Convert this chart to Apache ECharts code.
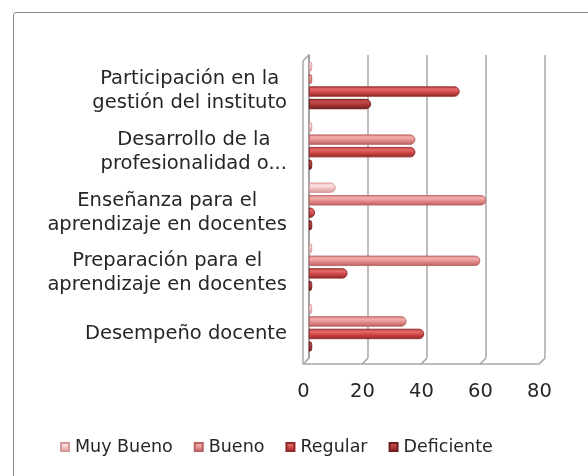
<!DOCTYPE html>
<html><head><meta charset="utf-8">
<script src="https://cdn.jsdelivr.net/npm/echarts@6/dist/echarts.min.js"></script>
<style>html,body{margin:0;padding:0;background:#fff;}
#frame{position:absolute;left:13px;top:12px;width:600px;height:500px;border:1px solid #8a8a8a;border-radius:3px;}
#c{position:absolute;left:0;top:0;width:588px;height:476px;}</style>
</head><body><div id="frame"></div><div id="c"></div>
<script>
const categories = ['Desempeño docente', 'Preparación para el\naprendizaje en docentes', 'Enseñanza para el\naprendizaje en docentes', 'Desarrollo de la\nprofesionalidad o...', 'Participación en la\ngestión del instituto'];
const seriesNames = ['Muy Bueno', 'Bueno', 'Regular', 'Deficiente'];
const muyBueno = [0, 0, 9, 0, 0];
const bueno = [33, 58, 60, 36, 0];
const regular = [39, 13, 2, 36, 51];
const deficiente = [1, 0, 0, 0, 21];
const xTicks = [0, 20, 40, 60, 80];

const palettes = [
  ['#fbe4e4', '#f1bcbc', '#d39a9a'],
  ['#f3aeae', '#e38787', '#b86262'],
  ['#e26a6a', '#cc4343', '#8f2b2b'],
  ['#c44c4c', '#a83232', '#6f1d1d']
];
const values = [muyBueno, bueno, regular, deficiente];
const grad = p => new echarts.graphic.LinearGradient(0, 0, 0, 1, [
  {offset: 0, color: p[1]}, {offset: 0.3, color: p[0]}, {offset: 0.6, color: p[1]}, {offset: 1, color: p[2]}
]);
const font = 'DejaVu Sans';
const txt = '#262626';
const chart = echarts.init(document.getElementById('c'), null, {renderer: 'canvas'});
chart.setOption({
  animation: false,
  backgroundColor: 'transparent',
  grid: {left: 309, right: 43, top: 55, bottom: 118},
  legend: {
    data: seriesNames, left: 55, top: 433, itemWidth: 8, itemHeight: 8, itemGap: 21,
    icon: 'rect',
    textStyle: {fontFamily: font, fontSize: 17.5, color: txt, padding: [0, 0, 0, 1]}
  },
  xAxis: {
    type: 'value', min: xTicks[0], max: xTicks[xTicks.length - 1], interval: 20,
    axisLine: {show: false}, axisTick: {show: false},
    splitLine: {lineStyle: {color: '#bdbdbd', width: 2}},
    axisLabel: {fontFamily: font, fontSize: 19.5, color: txt, margin: 24, padding: [0, 11, 0, 0]}
  },
  yAxis: {
    type: 'category', data: categories,
    axisLine: {lineStyle: {color: '#9a9a9a', width: 1.5}}, axisTick: {show: false},
    axisLabel: {
      fontFamily: font, fontSize: 19.5, color: txt, margin: 22, lineHeight: 24, padding: [12, 0, 0, 0],
      formatter: v => v.split('\n').map(l => '{c|' + l + '}').join('\n'),
      rich: {c: {align: 'center', fontFamily: font, fontSize: 19.5, color: txt, lineHeight: 24}}
    }
  },
  series: seriesNames.map((n, i) => ({
    name: n, type: 'bar', data: values[i], barWidth: 10, barGap: '25%', barMinHeight: 3,
    itemStyle: {color: grad(palettes[i]), borderColor: palettes[i][2], borderWidth: 0.6, borderRadius: [0, 5, 5, 0]}
  }))
});

// 3D-style frame decoration (walls / floor) derived from the axes
const d = 6;
const yTop = chart.convertToPixel({yAxisIndex: 0}, categories[categories.length - 1]) - 30.4;
const yBot = chart.convertToPixel({yAxisIndex: 0}, categories[0]) + 30.4;
const xs = xTicks.map(t => chart.convertToPixel({xAxisIndex: 0}, t));
const deco = [];
const ls = {stroke: '#a8a8a8', lineWidth: 1.5};
xs.forEach(x => deco.push({type: 'line', shape: {x1: x, y1: yBot, x2: x - d, y2: yBot + d}, style: ls, silent: true}));
deco.push({type: 'line', shape: {x1: xs[0] - d, y1: yBot + d, x2: xs[xs.length - 1] - d, y2: yBot + d}, style: ls, silent: true});
deco.push({type: 'line', shape: {x1: xs[0] - d, y1: yTop + d, x2: xs[0] - d, y2: yBot + d}, style: ls, silent: true});
deco.push({type: 'line', shape: {x1: xs[0] - d, y1: yTop + d, x2: xs[0], y2: yTop}, style: ls, silent: true});
chart.setOption({graphic: deco});
</script></body></html>
